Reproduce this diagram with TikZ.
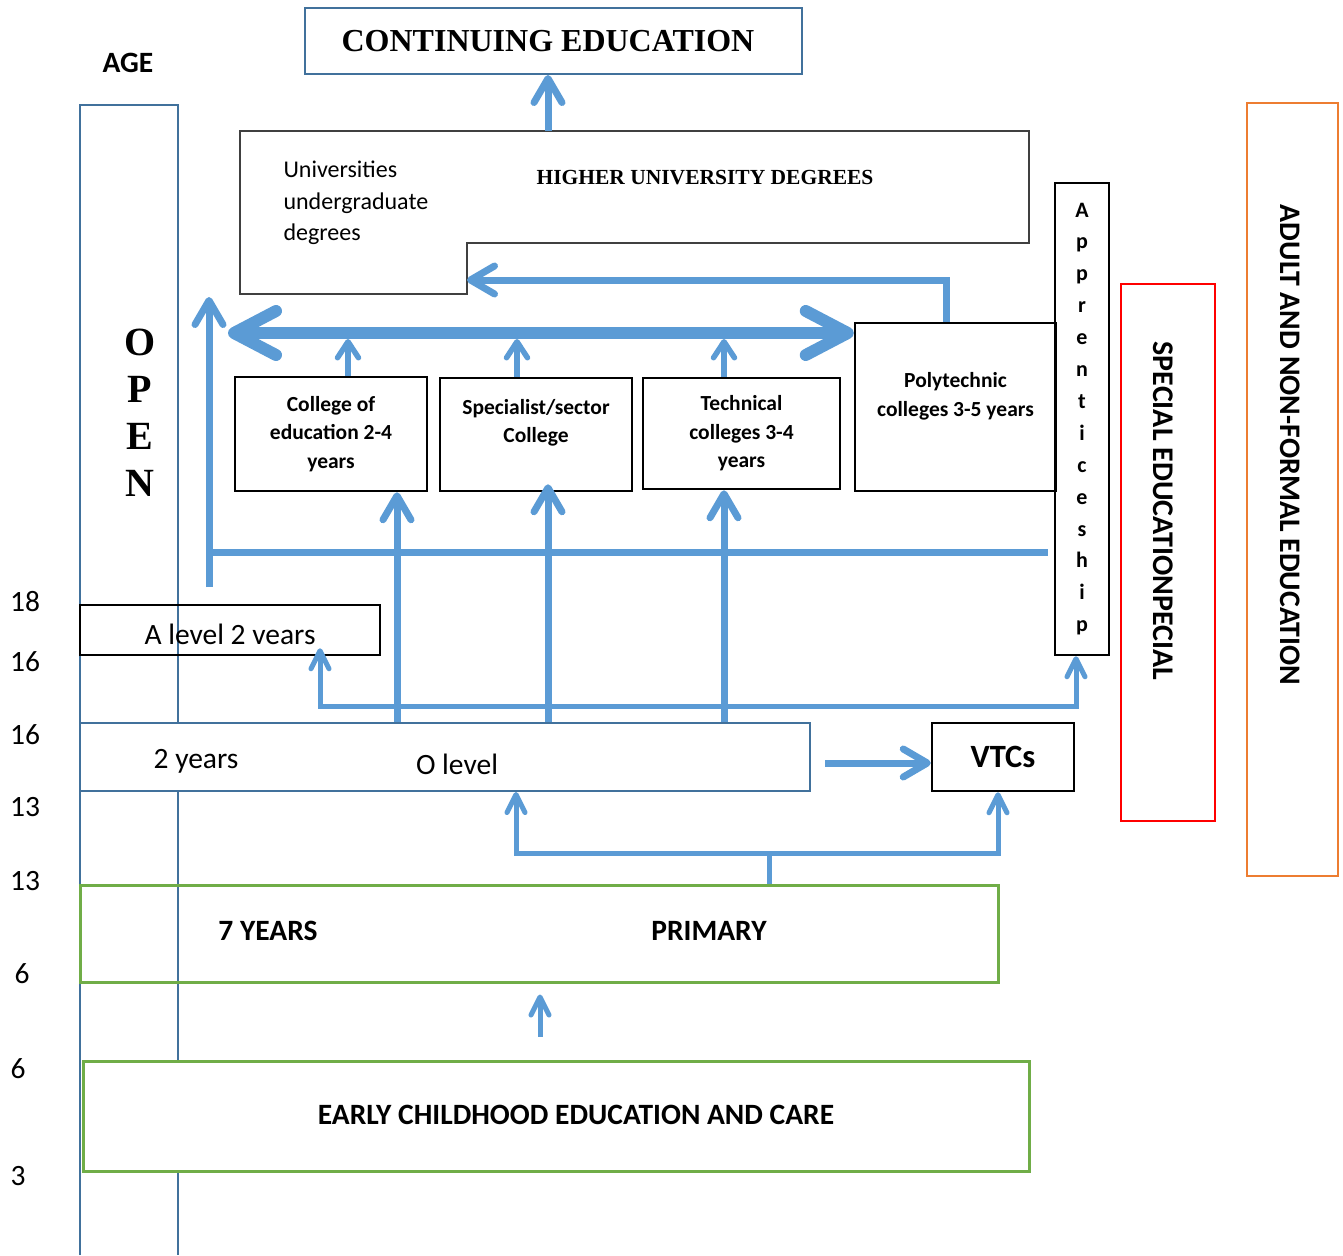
\documentclass[tikz,border=0pt]{standalone}
\usepackage{fontspec}
\setmainfont{Carlito}
\newfontfamily\timesfont{Liberation Serif}
\usetikzlibrary{arrows.meta,positioning,calc}
\definecolor{flowblue}{HTML}{5B9BD5}
\definecolor{edgeblue}{HTML}{41719C}
\definecolor{primgreen}{HTML}{70AD47}
\definecolor{adultorange}{HTML}{ED7D31}
\definecolor{unigray}{HTML}{404040}

\begin{document}
\begin{tikzpicture}[x=1pt,y=-1pt]
\tikzstyle{box}=[draw=black,line width=2.5pt,rectangle,inner sep=0pt,align=center,font=\bfseries\fontsize{21.5}{28.5}\selectfont]
\tikzstyle{bluebox}=[draw=edgeblue,line width=2pt,rectangle,inner sep=0pt]
\tikzstyle{greenbox}=[draw=primgreen,line width=3pt,rectangle,inner sep=0pt]
\tikzstyle{plain}=[font=\fontsize{29.5}{33}\selectfont]
\tikzstyle{heavy}=[font=\bfseries\fontsize{29.5}{33}\selectfont]
\tikzstyle{flow}=[draw=flowblue,line width=7pt,-{Straight Barb[length=24pt,width=28pt,round]}]
\tikzstyle{smallflow}=[draw=flowblue,line width=5.5pt,-{Straight Barb[length=16pt,width=21pt,round]}]
\tikzstyle{thinflow}=[draw=flowblue,line width=5pt,-{Straight Barb[length=18pt,width=18pt,round]}]
\tikzstyle{bigflow}=[draw=flowblue,line width=12pt,{Straight Barb[length=42pt,width=44pt,round]}-{Straight Barb[length=42pt,width=44pt,round]}]
\useasboundingbox (0,0) rectangle (1343,1255);

% open column
\draw[edgeblue,line width=2pt] (80,1255) -- (80,105) -- (178,105) -- (178,1255);
\node[font=\timesfont\bfseries\fontsize{40}{47}\selectfont,align=center] (openlbl) at (140,413) {O\\P\\E\\N};
\node[font=\bfseries\fontsize{29.5}{32}\selectfont] (age) at (128,63) {AGE};

% ages
\node[plain] (a18) at (25,602) {18};
\node[plain] (a16a) at (25,662) {16};
\node[plain] (a16b) at (25,735) {16};
\node[plain] (a13a) at (25,807) {13};
\node[plain] (a13b) at (25,881) {13};
\node[plain] (a6a) at (22,974) {6};
\node[plain] (a6b) at (18,1069) {6};
\node[plain] (a3) at (18,1176) {3};

% top part
\node[bluebox,minimum width=497pt,minimum height=66pt] (contedu) at (553.5,41) {};
\node[font=\timesfont\bfseries\fontsize{32}{36}\selectfont] (contedutxt) at (548,41) {CONTINUING EDUCATION};
\draw[unigray,line width=1.5pt] (240,131) -- (1029,131) -- (1029,243) -- (467,243) -- (467,294) -- (240,294) -- cycle;
\coordinate (unitop) at (548,131);
\coordinate (uninotch) at (467,280);
\node[anchor=west,align=left,font=\fontsize{24}{31.5}\selectfont] (unitxt) at (280,203) {Universities\\undergraduate\\degrees};
\node[font=\timesfont\bfseries\fontsize{21.5}{25}\selectfont] (highdeg) at (705,178) {HIGHER UNIVERSITY DEGREES};
\draw[flow] (unitop) -- (unitop |- contedu.south);

% colleges
\node[box,minimum width=192pt,minimum height=114pt] (coled) at (331,434) {College of\\education 2-4\\years};
\node[box,minimum width=192pt,minimum height=113pt] (spec) at (536,434.5) {};
\node[font=\bfseries\fontsize{21.5}{28.5}\selectfont,align=center] (spectxt) at (536,423) {Specialist/sector\\College};
\node[box,minimum width=197pt,minimum height=111pt] (tech) at (741.5,433.5) {Technical\\colleges 3-4\\years};
\node[box,minimum width=201pt,minimum height=168pt] (poly) at (955.5,407) {};
\node[font=\bfseries\fontsize{21.5}{29}\selectfont,align=center] (polytxt) at (955.5,396) {Polytechnic\\colleges 3-5 years};
\node[box,minimum width=54pt,minimum height=472pt,font=\bfseries\fontsize{22}{31.9}\selectfont] (appr) at (1082,419) {A\\p\\p\\r\\e\\n\\t\\i\\c\\e\\s\\h\\i\\p};

\coordinate (bigL) at (228,333);
\draw[bigflow] (bigL) -- (bigL -| poly.west);
\draw[smallflow] (348,0 |- coled.north) -- ([yshift=-6pt]348,0 |- bigL);
\draw[smallflow] (517,0 |- spec.north) -- ([yshift=-6pt]517,0 |- bigL);
\draw[smallflow] (724,0 |- tech.north) -- ([yshift=-6pt]724,0 |- bigL);
\draw[flow] ([xshift=-9.5pt]poly.north) |- (uninotch);

% side boxes
\node[draw=red,line width=2.5pt,minimum width=94pt,minimum height=537pt] (special) at (1168,552.5) {};
\node[rotate=-90,font=\bfseries\fontsize{30}{32}\selectfont] (spectitle) at (1163,511) {SPECIAL EDUCATIONPECIAL};
\node[draw=adultorange,line width=2.5pt,minimum width=91pt,minimum height=773pt] (adult) at (1292.5,489.5) {};
\node[rotate=-90,font=\bfseries\fontsize{29.8}{32}\selectfont] (adulttitle) at (1290,445) {ADULT AND NON-FORMAL EDUCATION};

% open route
\coordinate (opbase) at (209,587);
\coordinate (optop) at (209,297);
\coordinate (hlend) at (1048,552);
\draw[flow] (opbase) -- (optop);
\draw[draw=flowblue,line width=7pt] (opbase |- hlend) -- (hlend);

% A level
\node[draw=black,line width=2.5pt,minimum width=300pt,minimum height=50pt,inner sep=0pt] (alevel) at (230,630) {};
\node[plain] (aleveltxt) at (230,634) {A level 2 vears};
\coordinate (junc) at (1076,706);
\draw[thinflow,{Straight Barb[length=18pt,width=18pt,round]}-{Straight Barb[length=18pt,width=18pt,round]}] ([yshift=8pt]320,0 |- alevel.south) |- (junc) -- (junc |- appr.south);

% O level
\node[bluebox,fill=white,minimum width=730pt,minimum height=68pt] (olevel) at (445,757) {};
\node[plain] (twoyrs) at (196,761) {2 years};
\node[plain] (oleveltxt) at (457,764) {O level};
\draw[flow] (397,0 |- olevel.north) -- (397,0 |- coled.south);
\draw[flow] (548,0 |- olevel.north) -- ([yshift=8pt]548,0 |- spec.south);
\draw[flow] (724,0 |- olevel.north) -- (724,0 |- tech.south);

\node[box,minimum width=142pt,minimum height=68pt,font=\bfseries\fontsize{32.5}{34}\selectfont] (vtcs) at (1003,757) {VTCs};
\coordinate (vtsrc) at (825,763);
\draw[flow] (vtsrc) -- (vtsrc -| vtcs.west);

% primary and early childhood
\node[greenbox,minimum width=918pt,minimum height=97pt] (prim) at (539,933.5) {};
\node[heavy] (sevenyrs) at (268,931) {7 YEARS};
\node[heavy] (primtxt) at (709,931) {PRIMARY};
\coordinate (split) at (769,853);
\draw[draw=flowblue,line width=5pt] (split |- prim.north) -- (split);
\draw[thinflow,{Straight Barb[length=18pt,width=18pt,round]}-{Straight Barb[length=18pt,width=18pt,round]}] (516,0 |- olevel.south) -- (516,0 |- split) -- (998,0 |- split) -- (998,0 |- vtcs.south);

\node[greenbox,fill=white,minimum width=946pt,minimum height=110pt] (ecec) at (556,1116) {};
\node[heavy] (ecectxt) at (576,1115) {EARLY CHILDHOOD EDUCATION AND CARE};
\draw[thinflow] ([yshift=23pt]540,0 |- ecec.north) -- ([yshift=-11pt]540,0 |- prim.south);
\end{tikzpicture}
\end{document}
